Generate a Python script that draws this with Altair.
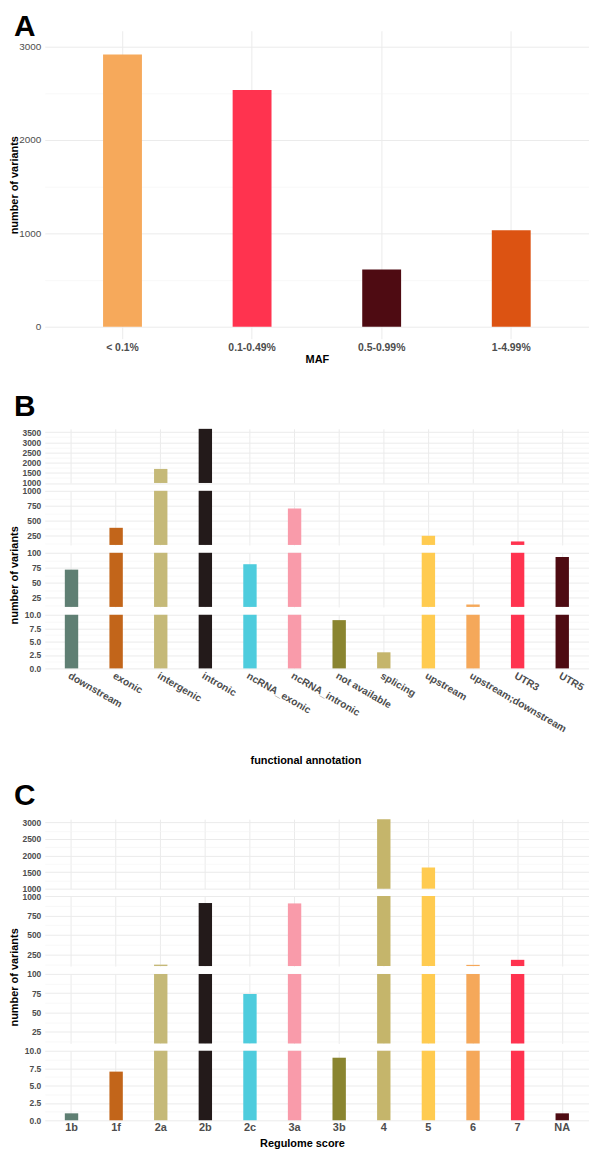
import altair as alt
import pandas as pd

FONT = "Liberation Sans"
TEXT_GREY = "#4D4D4D"
GRID_MAJOR = "#EBEBEB"
GRID_MINOR = "#F3F3F3"

# ---------------- Panel A : MAF classes ----------------
maf_categories = ["< 0.1%", "0.1-0.49%", "0.5-0.99%", "1-4.99%"]
maf_counts = [2912, 2532, 613, 1031]
maf_colors = ["#F6A95B", "#FF334F", "#4E0B12", "#DC5312"]
a_ticks = [0, 1000, 2000, 3000]
a_minor = [500, 1500, 2500]
a_range = (-128, 3167)

# ---------------- Panel B : functional annotation ----------------
func_categories = ["downstream", "exonic", "intergenic", "intronic", "ncRNA_exonic",
                   "ncRNA_intronic", "not available", "splicing", "upstream",
                   "upstream;downstream", "UTR3", "UTR5"]
func_counts = [72, 385, 1690, 3660, 81, 706, 9, 3, 252, 14, 158, 93]
func_colors = ["#5F7F73", "#C2651A", "#C5B978", "#231A1A", "#4ECCDD", "#F99BAA",
               "#8A8530", "#C5B56B", "#FFCB50", "#F5A85A", "#FF334F", "#4E0B12"]
# broken axis segments, top to bottom
b_ranges = [(1000, 3660), (100, 1000), (10, 100), (0, 10)]
b_ticks = [[1000, 1500, 2000, 2500, 3000, 3500], [250, 500, 750, 1000], [25, 50, 75, 100],
           [0, 2.5, 5, 7.5, 10]]
b_minor = [[1250, 1750, 2250, 2750, 3250], [125, 375, 625, 875], [12.5, 37.5, 62.5, 87.5],
           [1.25, 3.75, 6.25, 8.75]]

# ---------------- Panel C : Regulome score ----------------
reg_categories = ["1b", "1f", "2a", "2b", "2c", "3a", "3b", "4", "5", "6", "7", "NA"]
reg_counts = [1, 7, 118, 910, 74, 905, 9, 3100, 1640, 115, 180, 1]
reg_colors = ["#5F7F73", "#C2651A", "#C5B978", "#231A1A", "#4ECCDD", "#F99BAA",
              "#8A8530", "#C5B56B", "#FFCB50", "#F5A85A", "#FF334F", "#4E0B12"]
c_ranges = [(1000, 3100), (100, 1000), (10, 100), (0, 10)]
c_ticks = [[1000, 1500, 2000, 2500, 3000], [250, 500, 750, 1000], [25, 50, 75, 100],
           [0, 2.5, 5, 7.5, 10]]
c_minor = [[1250, 1750, 2250, 2750], [125, 375, 625, 875], [12.5, 37.5, 62.5, 87.5],
           [1.25, 3.75, 6.25, 8.75]]

PLOT_W = 548
GAP = 7.4


def js_list(vals):
    return "[" + ",".join(repr(v) for v in vals) + "]"


def y_axis(majors, minors, fmt, size, weight, title=None, title_y=None):
    test = f"indexof({js_list(majors)}, datum.value) >= 0"
    kw = dict(
        values=sorted(majors + minors), format=fmt,
        labelExpr=f"{test} ? datum.label : ''",
        grid=True,
        gridColor={"condition": {"test": test, "value": GRID_MAJOR}, "value": GRID_MINOR},
        gridWidth={"condition": {"test": test, "value": 1}, "value": 0.6},
        ticks=False, domain=False, labelPadding=4, labelFont=FONT,
        labelFontSize=size, labelFontWeight=weight, labelColor=TEXT_GREY,
        labelFlush=False, labelOverlap=False,
    )
    if title:
        kw.update(title=title, titleFont=FONT, titleFontSize=11, titleFontWeight="bold",
                  titleColor="black", titleX=-25, titleAngle=270, titleAlign="center",
                  titleBaseline="bottom")
        if title_y is not None:
            kw["titleY"] = title_y
    else:
        kw["title"] = None
    return alt.Axis(**kw)


def x_axis_hidden():
    return alt.Axis(labels=False, ticks=False, domain=False, title=None, grid=True,
                    gridColor=GRID_MAJOR, gridWidth=1, bandPosition=0.5)


def bars(df, cats, dom, base, yaxis, xaxis):
    d = df[df["count"] > base]
    return alt.Chart(d).mark_bar().encode(
        x=alt.X("category:N", sort=cats,
                scale=alt.Scale(domain=cats, paddingInner=0.7, paddingOuter=0.45),
                axis=xaxis),
        y=alt.Y("count:Q", scale=alt.Scale(domain=list(dom), clamp=True, nice=False, zero=False),
                axis=yaxis),
        y2=alt.datum(base),
        color=alt.Color("color:N", scale=None),
    )


def letter(ch, y):
    return alt.Chart(pd.DataFrame({"letter": [ch]})).mark_text(
        align="left", baseline="top", font=FONT, fontSize=30, fontWeight="bold", color="black"
    ).encode(text="letter:N", x=alt.value(-31), y=alt.value(y))


def spacer(h):
    return alt.Chart(pd.DataFrame({"s": [0]})).mark_point(opacity=0).encode(
        x=alt.value(0), y=alt.value(0)).properties(width=PLOT_W, height=h)


# ---------- Panel A ----------
dfA = pd.DataFrame({"category": maf_categories, "count": maf_counts, "color": maf_colors})
xA = alt.Axis(labelAngle=0, labelFont=FONT, labelFontSize=10.5, labelFontWeight="bold",
              labelColor=TEXT_GREY, labelPadding=4, ticks=False, domain=False, grid=True,
              gridColor=GRID_MAJOR, gridWidth=1, bandPosition=0.5,
              title="MAF", titleFont=FONT, titleFontSize=11, titleFontWeight="bold",
              titleColor="black", titleY=21, titleBaseline="middle")
yA = y_axis(a_ticks, a_minor, "d", 10, "normal", title="number of variants")
A = alt.layer(
    bars(dfA, maf_categories, a_range, 0, yA, xA),
    letter("A", -19),
).properties(width=PLOT_W, height=310)


def broken_panel(cats, counts, colors, ranges, ticks, minors, heights,
                 xaxis_bottom, title_seg, title_y, ch, ch_y):
    df = pd.DataFrame({"category": cats, "count": counts, "color": colors})
    segs = []
    for i, (lo, hi) in enumerate(ranges):
        fmt = ".1f" if lo == 0 else "d"
        ya = y_axis(ticks[i], minors[i], fmt, 8.5, "bold",
                    title="number of variants" if i == title_seg else None,
                    title_y=title_y)
        xa = xaxis_bottom if i == len(ranges) - 1 else x_axis_hidden()
        layer = bars(df, cats, (lo, hi), lo, ya, xa)
        if i == 0:
            layer = alt.layer(layer, letter(ch, ch_y))
        segs.append(layer.properties(width=PLOT_W, height=heights[i]))
    return segs


xB = alt.Axis(labelAngle=30, labelAlign="left", labelBaseline="top", labelFont=FONT,
              labelFontSize=10.3, labelFontWeight="bold", labelColor=TEXT_GREY,
              labelPadding=2, labelOverlap=False, labelLimit=300, ticks=False, domain=False,
              grid=True, gridColor=GRID_MAJOR, gridWidth=1, bandPosition=0.5,
              title="functional annotation", titleFont=FONT, titleFontSize=11,
              titleFontWeight="bold", titleColor="black", titleX=262.5, titleY=92.4,
              titleBaseline="middle", titleAlign="center")
B = broken_panel(func_categories, func_counts, func_colors, b_ranges, b_ticks, b_minor,
                 [54.5, 54.5, 54.5, 54], xB, 2, 22.2, "B", -36.7)

xC = alt.Axis(labelAngle=0, labelFont=FONT, labelFontSize=11, labelFontWeight="bold",
              labelColor=TEXT_GREY, labelPadding=1, ticks=False, domain=False, grid=True,
              gridColor=GRID_MAJOR, gridWidth=1, bandPosition=0.5,
              title="Regulome score", titleFont=FONT, titleFontSize=11,
              titleFontWeight="bold", titleColor="black", titleX=259, titleY=23.5,
              titleBaseline="middle", titleAlign="center")
C = broken_panel(reg_categories, reg_counts, reg_colors, c_ranges, c_ticks, c_minor,
                 [70, 70.5, 70, 70], xC, 2, 3, "C", -38)

chart = alt.vconcat(
    A, spacer(75.9), *B, spacer(136.8), *C,
    spacing=GAP, bounds="flush",
).properties(padding=0, background="white").configure_view(strokeWidth=0).configure_axis(
    labelFont=FONT, titleFont=FONT)

chart.save("out.html", embed_options={"renderer": "svg", "actions": False})
